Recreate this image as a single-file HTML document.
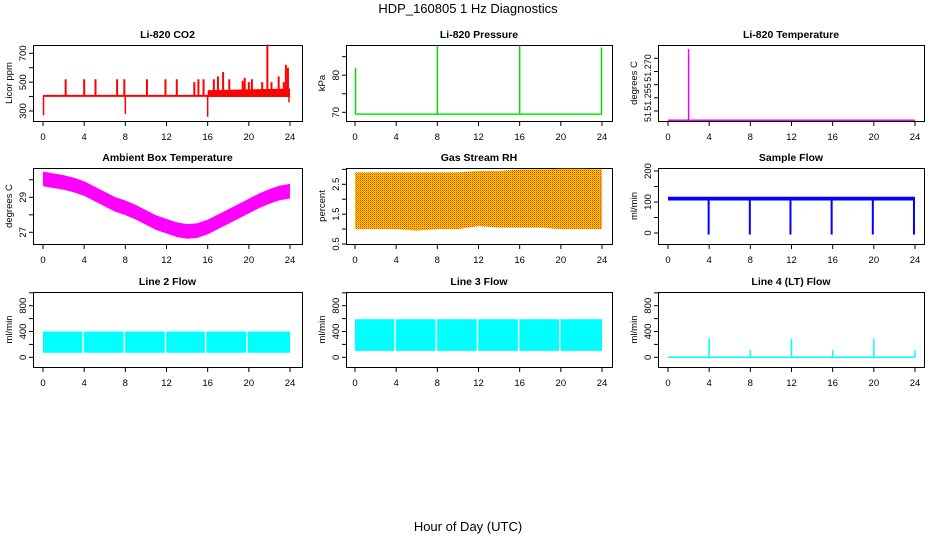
<!DOCTYPE html>
<html><head><meta charset="utf-8">
<style>
body{margin:0;background:#fff;}
svg text{font-family:"Liberation Sans",Arial,sans-serif;}
</style></head>
<body>
<svg id="c" width="936" height="540" viewBox="0 0 936 540" xmlns="http://www.w3.org/2000/svg">
<defs>
<pattern id="rhpat" width="2" height="2" patternUnits="userSpaceOnUse">
<rect width="2" height="2" fill="#ffe000"/><rect width="1" height="1" fill="#ff2000"/><rect x="1" y="1" width="1" height="1" fill="#ff9000"/>
</pattern>
</defs>
<text x="468" y="13" font-size="13" text-anchor="middle">HDP_160805  1 Hz Diagnostics</text>
<text x="468" y="531" font-size="13" text-anchor="middle">Hour of Day (UTC)</text>
<g id="g"></g>
</svg>
<script>
// ---- data ----
const xTicks=[0,4,8,12,16,20,24];
const co2Base=405;
const co2SpikeT=[2.2,4.0,5.1,7.2,7.9,10.1,11.9,13.0,14.7,15.1,15.6,16.6,17.0,17.5,18.1,19.4,19.6,20.0,20.3,21.3,21.8,22.2,22.9,23.4,23.6,23.8];
const co2SpikeV=[520,520,520,520,520,520,520,520,500,520,520,520,540,570,520,510,530,500,520,500,760,500,540,500,620,600];
const co2DipT=[0.05,8.0,16.0,23.9];
const co2DipV=[270,280,260,360];
const co2Ticks=[300,500,700];
const presBase=69.5;
const presSpikeT=[0.05,8.0,16.0,23.95];
const presSpikeV=[82,88,88,87.5];
const presTicks=[70,80];
const tempBase=51.2515;
const tempSpikeT=[2.0];
const tempSpikeV=[51.2785];
const ambHours=[0,1,2,3,4,5,6,7,8,9,10,11,12,13,14,15,16,17,18,19,20,21,22,23,24];
const ambMid=[30.05,29.95,29.85,29.7,29.5,29.2,28.9,28.6,28.4,28.15,27.85,27.55,27.35,27.15,27.05,27.1,27.3,27.6,27.9,28.2,28.5,28.8,29.05,29.25,29.35];
const ambTicks=[27,29];
const rhHours=[0,2,4,6,8,10,12,14,16,18,20,22,24];
const rhTop=[2.9,2.9,2.9,2.9,2.9,2.9,2.95,2.95,3.0,3.0,3.02,3.02,3.0];
const rhBot=[1.0,1.0,1.0,0.95,1.0,1.0,1.1,1.05,1.05,1.05,1.0,1.0,1.0];
const rhTicks=[0.5,1.5,2.5];
const sfBaseLo=105, sfBaseHi=117;
const sfDipT=[3.95,7.95,11.9,15.9,19.9,23.9];
const sfDipV=[-5,-5,-5,-5,-5,-5];
const sfTicks=[0,100,200];
const l2Lo=70,l2Hi=400;
const l2GapT=[3.9,7.9,11.9,15.8,19.8];
const l3Lo=100,l3Hi=590;
const l3GapT=[3.9,7.9,11.9,15.9,19.9];
const l4SpikeT=[4,8,12,16,20,24];
const l4SpikeV=[290,110,290,110,290,110];
const flowTicks=[0,400,800];

const NS="http://www.w3.org/2000/svg";
const G=document.getElementById('g');
function mk(tag,attrs,parent){const e=document.createElementNS(NS,tag);for(const k in attrs)e.setAttribute(k,attrs[k]);(parent||G).appendChild(e);return e;}

const cols=[{l:33,r:302,x0:43,x24:290},{l:346,r:612,x0:355,x24:602},{l:658,r:924,x0:668,x24:915}];
const rows=[{t:45,b:121},{t:168,b:244},{t:292,b:367}];

function panel(ci,ri,title,ytitle,yv0,yp0,yv1,yp1,ticks,tickLabels,name){
  const c=cols[ci],r=rows[ri];
  const g=mk('g',{});
  
  
  const sx=h=>c.x0+(c.x24-c.x0)*h/24;
  const sy=v=>yp0+(yp1-yp0)*(v-yv0)/(yv1-yv0);
  const tt=mk('text',{x:(c.l+c.r)/2,y:r.t-7,'font-size':10.5,'font-weight':'bold','text-anchor':'middle'},g);
  tt.textContent=title;
  
  
  const yt=mk('text',{transform:`translate(${c.l-21},${(r.t+r.b)/2}) rotate(-90)`,'font-size':9.5,'text-anchor':'middle'},g);
  yt.textContent=ytitle;
  
  
  const xa=mk('g',{},g);
  
  
  xTicks.forEach(h=>{
    mk('line',{x1:sx(h),x2:sx(h),y1:r.b,y2:r.b+5,stroke:'#000'},xa);
    const t=mk('text',{x:sx(h),y:r.b+19,'font-size':9.5,'text-anchor':'middle'},xa);t.textContent=h;
  });
  const ya=mk('g',{},g);
  
  
  ticks.forEach((v,i)=>{
    const y=sy(v);
    mk('line',{x1:c.l-4,x2:c.l,y1:y,y2:y,stroke:'#000'},ya);
    if(tickLabels[i]!==''){
      const t=mk('text',{transform:`translate(${c.l-7},${y}) rotate(-90)`,'font-size':9.5,'text-anchor':'middle'},ya);
      t.textContent=tickLabels[i];
    }
  });
  mk('rect',{x:c.l+0.5,y:r.t+0.5,width:c.r-c.l,height:r.b-r.t,fill:'none',stroke:'#000'},g);
  const d=mk('g',{},g);
  
  
  return {sx,sy,d,ya,c};
}
function vline(p,h,v0,v1,col,w){const e=mk('line',{x1:p.sx(h),x2:p.sx(h),y1:p.sy(v0),y2:p.sy(v1),stroke:col,'stroke-width':w||1},p.d);return e;}
function hline(p,v,col,w){const e=mk('line',{x1:p.sx(0),x2:p.sx(24),y1:p.sy(v),y2:p.sy(v),stroke:col,'stroke-width':w||1},p.d);return e;}
function band(p,hs,lo,hi,fill){
  let pts=hs.map((h,i)=>p.sx(h)+','+p.sy(hi[i]));
  pts=pts.concat(hs.slice().reverse().map((h,i)=>p.sx(h)+','+p.sy(lo[hs.length-1-i])));
  const e=mk('polygon',{points:pts.join(' '),fill:fill},p.d);
  
  
  return e;
}

// CO2
let p=panel(0,0,'Li-820 CO2','Licor ppm',300,111,700,53.3,[300,400,500,600,700],['300','','500','','700'],'co2');
band(p,[16,24],[398,398],[445,455],'#ff0000');
hline(p,co2Base,'#ff0000',2);
co2SpikeT.forEach((h,i)=>vline(p,h,co2Base,co2SpikeV[i],'#ff0000',2));
co2DipT.forEach((h,i)=>vline(p,h,co2Base,co2DipV[i],'#ff0000',1.5));
// Pressure
p=panel(1,0,'Li-820 Pressure','kPa',70,112.3,85,56.7,[70,75,80,85],['70','','80',''],'pressure');
hline(p,presBase,'#00ee00',1.5);
presSpikeT.forEach((h,i)=>vline(p,h,presBase,presSpikeV[i],'#00dd00',1.5));
// Li-820 temp
p=panel(2,0,'Li-820 Temperature','degrees C',51.255,111,51.275,58.3,[51.255,51.26,51.265,51.27,51.275],['','','','',''],'li820-temp');
[['51.270',68],['51.255',97],['51',117]].forEach(([s,y])=>{
  const t=mk('text',{transform:`translate(${p.c.l-7},${y}) rotate(-90)`,'font-size':9,'text-anchor':'middle'},p.ya);
  t.textContent=s;
});
hline(p,tempBase,'#ee00ee',1.5);
tempSpikeT.forEach((h,i)=>vline(p,h,tempBase,tempSpikeV[i],'#ee00ee',1.5));
// Ambient
p=panel(0,1,'Ambient Box Temperature','degrees C',27,232.3,29,197.3,[27,28,29,30],['27','','29',''],'ambient-temp');
band(p,ambHours,ambMid.map(v=>v-0.42),ambMid.map(v=>v+0.42),'#ff00ff');
// RH
p=panel(1,1,'Gas Stream RH','percent',0.5,244,2.5,184.3,[0.5,1,1.5,2,2.5,3],['0.5','','1.5','','2.5',''],'gas-rh');
band(p,rhHours,rhBot,rhTop,'url(#rhpat)');
// Sample flow
p=panel(2,1,'Sample Flow','ml/min',0,233,200,171,[0,50,100,150,200],['0','','100','','200'],'sample-flow');
band(p,[0,24],[sfBaseLo,sfBaseLo],[sfBaseHi,sfBaseHi],'#0000ff');
sfDipT.forEach((h,i)=>vline(p,h,sfBaseLo,sfDipV[i],'#0000ff',2));
// Line 2
p=panel(0,2,'Line 2 Flow','ml/min',0,357.3,800,305.7,[0,200,400,600,800,1000],['0','','400','','800',''],'line2-flow');
band(p,[0,24],[l2Lo,l2Lo],[l2Hi,l2Hi],'#00ffff');
l2GapT.forEach(h=>vline(p,h,l2Lo-5,l2Hi+5,'#ffffff',1.5));
// Line 3
p=panel(1,2,'Line 3 Flow','ml/min',0,357.3,800,305.7,[0,200,400,600,800,1000],['0','','400','','800',''],'line3-flow');
band(p,[0,24],[l3Lo,l3Lo],[l3Hi,l3Hi],'#00ffff');
l3GapT.forEach(h=>vline(p,h,l3Lo-5,l3Hi+5,'#ffffff',1.5));
// Line 4
p=panel(2,2,'Line 4 (LT) Flow','ml/min',0,357.3,800,305.7,[0,200,400,600,800,1000],['0','','400','','800',''],'line4-flow');
hline(p,0,'#00ffff',1.5);
l4SpikeT.forEach((h,i)=>vline(p,h,0,l4SpikeV[i],'#00ffff',1.5));
</script>
</body></html>
